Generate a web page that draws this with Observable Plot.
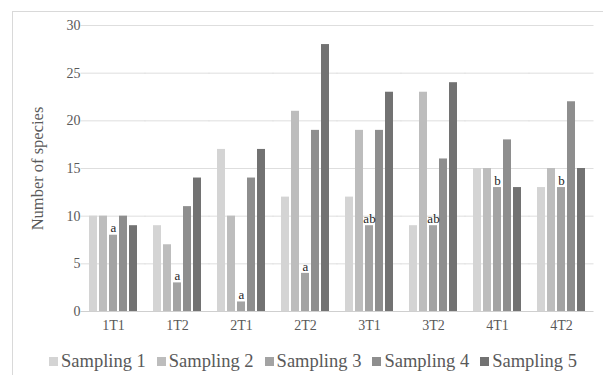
<!DOCTYPE html>
<html>
<head>
<meta charset="utf-8">
<script src="https://cdn.jsdelivr.net/npm/d3@7"></script>
<script src="https://cdn.jsdelivr.net/npm/@observablehq/plot@0.6"></script>
<style>
  html, body { margin: 0; padding: 0; background: #fff; overflow: hidden; }
  #frame { position: absolute; left: 12px; top: 11px; width: 700px; height: 500px; border: 1px solid #d9d9d9; box-sizing: border-box; }
  #chart { position: absolute; left: 0; top: 0; }
  #legend { position: absolute; left: 49px; top: 345px; width: 560px; display: flex; justify-content: flex-start; }
  #legend, #legend * { font-family: 'Liberation Serif', 'DejaVu Serif', serif !important; font-size: 18.5px !important; color: #595959; }
  #legend > div { margin: 0 !important; }
  #legend > div > span { margin-right: 11px !important; }
  #legend > div > span:last-child { margin-right: 0 !important; }
  #legend svg { margin-right: 3px !important; }
</style>
</head>
<body>
<div id="frame"></div>
<div id="chart"></div>
<div id="legend"></div>
<script>
const categories = ["1T1", "1T2", "2T1", "2T2", "3T1", "3T2", "4T1", "4T2"];
const seriesNames = ["Sampling 1", "Sampling 2", "Sampling 3", "Sampling 4", "Sampling 5"];
const sampling1 = [10, 9, 17, 12, 12, 9, 15, 13];
const sampling2 = [10, 7, 10, 21, 19, 23, 15, 15];
const sampling3 = [8, 3, 1, 4, 9, 9, 13, 13];
const sampling4 = [10, 11, 14, 19, 19, 16, 18, 22];
const sampling5 = [9, 14, 17, 28, 23, 24, 13, 15];
const letters3 = ["a", "a", "a", "a", "ab", "ab", "b", "b"];
const yTicks = [0, 5, 10, 15, 20, 25, 30];
const colors = ["#d4d4d4", "#bdbdbd", "#a3a3a3", "#8e8e8e", "#727272"];

const seriesValues = [sampling1, sampling2, sampling3, sampling4, sampling5];
const data = [];
categories.forEach((c, i) => {
  seriesNames.forEach((s, j) => {
    data.push({cat: c, series: s, value: seriesValues[j][i], letter: j === 2 ? letters3[i] : null});
  });
});

const serif = "'Liberation Serif', 'DejaVu Serif', serif";

const chart = Plot.plot({
  width: 603,
  height: 375,
  marginLeft: 78,
  marginRight: 6,
  marginTop: 25,
  marginBottom: 64,
  style: {fontFamily: serif, color: "#595959", background: "transparent"},
  fx: {domain: categories, paddingInner: 0.245, paddingOuter: 0.1225, label: null},
  x: {domain: seriesNames, paddingInner: 0.25, paddingOuter: 0, axis: null},
  y: {domain: [0, 30], label: null},
  color: {domain: seriesNames, range: colors},
  marks: [
    Plot.ruleY(yTicks.filter(t => t > 0), {stroke: "#dedede", insetLeft: -8.5, insetRight: -8.5}),
    Plot.ruleY([0], {stroke: "#cfcfcf", insetLeft: -8.5, insetRight: -8.5}),
    Plot.axisY(yTicks, {tickSize: 0, tickPadding: 9, fontSize: 14, fill: "#595959", label: null}),
    Plot.axisFx({anchor: "bottom", tickSize: 0, tickPadding: 9, fontSize: 14, fill: "#595959", label: null}),
    Plot.barY(data, {fx: "cat", x: "series", y: "value", fill: "series"}),
    Plot.text(data.filter(d => d.letter), {fx: "cat", x: "series", y: "value", text: "letter", dy: -7, fontSize: 13, fill: "#262626"}),
    Plot.text(["Number of species"], {frameAnchor: "left", rotate: -90, textAnchor: "middle", dx: -52, fontSize: 16.5, fill: "#595959", facet: "super"})
  ]
});
document.getElementById("chart").appendChild(chart);

const legend = Plot.legend({
  color: {domain: seriesNames, range: colors},
  legend: "swatches",
  swatchSize: 9,
  style: {fontFamily: serif, fontSize: "18.5px", color: "#595959"}
});
document.getElementById("legend").appendChild(legend);
</script>
</body>
</html>
